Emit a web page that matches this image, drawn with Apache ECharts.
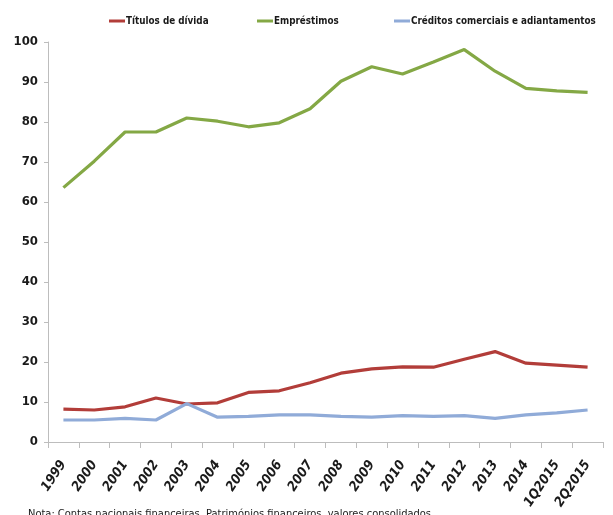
<!DOCTYPE html>
<html>
<head>
<meta charset="utf-8">
<script src="https://cdn.jsdelivr.net/npm/echarts@6/dist/echarts.min.js"></script>
<style>
  html, body { margin: 0; padding: 0; background: #fff; }
  #chart { width: 613px; height: 515px; }
</style>
</head>
<body>
<div id="chart"></div>
<script>
// Period labels on the category axis
const periods = ['1999', '2000', '2001', '2002', '2003', '2004', '2005', '2006', '2007',
  '2008', '2009', '2010', '2011', '2012', '2013', '2014', '1Q2015', '2Q2015'];

// Financial liabilities by instrument (% of GDP)
const titulosDivida = [8.2, 8.0, 8.8, 11.0, 9.5, 9.8, 12.4, 12.8, 14.8, 17.2, 18.3, 18.8, 18.7, 20.7, 22.6, 19.7, 19.2, 18.7];
const emprestimos = [63.6, 70.2, 77.5, 77.5, 81.0, 80.2, 78.8, 79.8, 83.3, 90.2, 93.8, 92.0, 95.0, 98.1, 92.7, 88.4, 87.8, 87.4];
const creditosComerciais = [5.5, 5.5, 5.9, 5.5, 9.6, 6.2, 6.4, 6.8, 6.8, 6.4, 6.2, 6.6, 6.4, 6.6, 5.9, 6.8, 7.3, 8.0];

const yTicks = { min: 0, max: 100, interval: 10 };

const FONT = "'DejaVu Sans Condensed', 'Liberation Sans', sans-serif";
const TXT = '#1a1a1a';
const colors = { red: '#b23d39', green: '#84a845', blue: '#90abd8' };

const chart = echarts.init(document.getElementById('chart'), null, { renderer: 'canvas' });

function legendAt(name, left) {
  return {
    data: [name], left: left, top: 11, icon: 'rect', itemWidth: 16, itemHeight: 3, itemGap: 2,
    textStyle: { fontFamily: FONT, fontSize: 9.8, fontWeight: 'bold', color: TXT, padding: [0, 0, 0, -4] }
  };
}

function lineSeries(name, data, color) {
  return {
    name: name, type: 'line', data: data, symbol: 'none', smooth: false,
    lineStyle: { color: color, width: 3.2 }, itemStyle: { color: color },
    emphasis: { disabled: true }
  };
}

chart.setOption({
  animation: false,
  legend: [
    legendAt('Títulos de dívida', 104),
    legendAt('Empréstimos', 252),
    legendAt('Créditos comerciais e adiantamentos', 389)
  ],
  grid: { left: 48, right: 10, top: 42, bottom: 73, containLabel: false },
  xAxis: {
    type: 'category', data: periods, boundaryGap: true,
    axisLine: { lineStyle: { color: '#bdbdbd', width: 1 } },
    axisTick: { show: true, length: 6, alignWithLabel: false, lineStyle: { color: '#bdbdbd' } },
    axisLabel: {
      rotate: 56, interval: 0, margin: 20, fontFamily: FONT, fontSize: 13.5,
      fontWeight: 'bold', fontStyle: 'italic', color: TXT
    },
    splitLine: { show: false }
  },
  yAxis: {
    type: 'value', min: yTicks.min, max: yTicks.max, interval: yTicks.interval,
    axisLine: { show: true, lineStyle: { color: '#bdbdbd', width: 1 } },
    axisTick: { show: true, length: 4, lineStyle: { color: '#bdbdbd' } },
    axisLabel: { fontFamily: FONT, fontSize: 13, fontWeight: 'bold', color: TXT, margin: 10 },
    splitLine: { show: false }
  },
  series: [
    lineSeries('Títulos de dívida', titulosDivida, colors.red),
    lineSeries('Empréstimos', emprestimos, colors.green),
    lineSeries('Créditos comerciais e adiantamentos', creditosComerciais, colors.blue)
  ],
  graphic: [{
    type: 'text', left: 28, top: 509,
    style: {
      text: 'Nota: Contas nacionais financeiras. Patrimónios financeiros, valores consolidados',
      fontFamily: FONT, fontSize: 11, fill: TXT
    }
  }]
});
</script>
</body>
</html>
